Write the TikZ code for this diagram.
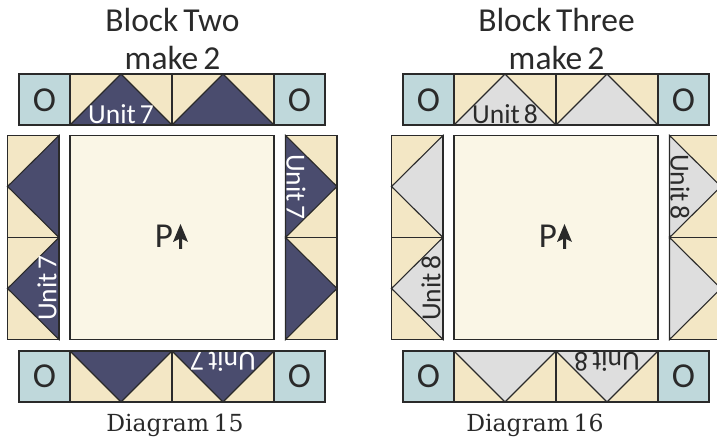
\documentclass[tikz,border=0pt]{standalone}
\usepackage{fontspec}
\setmainfont{Carlito}
\newfontfamily\titlefont[WordSpace=0.65]{Carlito}
\newfontfamily\capfont[WordSpace=0.6]{DejaVu Serif}
\usetikzlibrary{calc}
\definecolor{tan}{HTML}{F3E7C5}
\definecolor{navy}{HTML}{4A4C6E}
\definecolor{lightgrey}{HTML}{DEDEDE}
\definecolor{teal2}{HTML}{BFD8DB}
\definecolor{cream}{HTML}{FAF6E6}
\definecolor{ink}{HTML}{2A2A2A}
\tikzset{
  seam/.style={draw=ink,line width=1.1pt,line join=miter},
  titletext/.style={text=ink,font=\titlefont\fontsize{33.5}{33.5}\selectfont,inner sep=0pt,anchor=base},
  markertext/.style={text=ink,font=\fontsize{35}{35}\selectfont,inner sep=0pt},
  unittext/.style={font=\titlefont\fontsize{27.5}{27.5}\selectfont,inner sep=0pt},
  captiontext/.style={text=ink,font=\capfont\fontsize{23.5}{23.5}\selectfont,inner sep=0pt,anchor=base},
}
% one flying-geese unit: #1,#2 = corner A of the base, #3,#4 = base vector, #5,#6 = depth vector, #7 = goose colour
\newcommand{\goose}[7]{%
  \fill[tan] (#1,#2) -- ++(#3,#4) -- ++(#5,#6) -- ++(-#3,-#4) -- cycle;
  \draw[seam,fill=#7] (#1,#2) -- ++(#3,#4) -- ($(#1,#2)+0.5*(#3,#4)+(#5,#6)$) -- cycle;
  \draw[seam] (#1,#2) -- ++(#3,#4) -- ++(#5,#6) -- ++(-#3,-#4) -- cycle;
}
\newcommand{\quiltblock}[5]{%
  % #1 x offset, #2 goose colour, #3 unit text colour, #4 unit text, #5 title
  \begin{scope}[xshift=#1pt]
    \node[titletext] (title#1) at (172.5,32) {#5};
    \node[titletext] (make#1) at (172.5,69.5) {make 2};
    % top row
    \draw[seam,fill=teal2] (19,74) rectangle (70,125);
    \node[markertext] (otl#1) at (44.5,100) {O};
    \goose{70}{125}{102}{0}{0}{-51}{#2}
    \goose{172}{125}{102}{0}{0}{-51}{#2}
    \draw[seam,fill=teal2] (274,74) rectangle (325,125);
    \node[markertext] (otr#1) at (299.5,100) {O};
    \node[unittext,text=#3] (unita#1) at (121,114) {#4};
    % left column
    \goose{59}{135.5}{0}{102}{-51.5}{0}{#2}
    \goose{59}{237.5}{0}{102}{-51.5}{0}{#2}
    \node[unittext,text=#3,rotate=90] (unitb#1) at (47,288) {#4};
    % centre
    \draw[seam,fill=cream] (70,135.5) rectangle (274,339.5);
    \node[markertext,anchor=base] (pp#1) at (164,248) {P};
    \fill[ink] (179,249) -- (179,239) -- (173,242) -- (180.5,224) -- (188,242) -- (182,239) -- (182,249) -- cycle;
    % right column
    \goose{285.5}{135.5}{0}{102}{51.5}{0}{#2}
    \goose{285.5}{237.5}{0}{102}{51.5}{0}{#2}
    \node[unittext,text=#3,rotate=-90] (unitc#1) at (296,187) {#4};
    % bottom row
    \draw[seam,fill=teal2] (19,351) rectangle (70,402);
    \node[markertext] (obl#1) at (44.5,376.5) {O};
    \goose{70}{351}{102}{0}{0}{51}{#2}
    \goose{172}{351}{102}{0}{0}{51}{#2}
    \draw[seam,fill=teal2] (274,351) rectangle (325,402);
    \node[markertext] (obr#1) at (299.5,376.5) {O};
    \node[unittext,text=#3,rotate=180] (unitd#1) at (223,362) {#4};
  \end{scope}
}
\begin{document}
\begin{tikzpicture}[x=1pt,y=-1pt]
  \useasboundingbox (0,0) rectangle (717,438);
  \clip (0,0) rectangle (717,438);
  \quiltblock{0}{navy}{white}{Unit 7}{Block Two}
  \quiltblock{384}{lightgrey}{ink}{Unit 8}{Block Three}
  \node[captiontext] (capleft) at (175,431) {Diagram 15};
  \node[captiontext] (capright) at (535,431) {Diagram 16};
\end{tikzpicture}
\end{document}
